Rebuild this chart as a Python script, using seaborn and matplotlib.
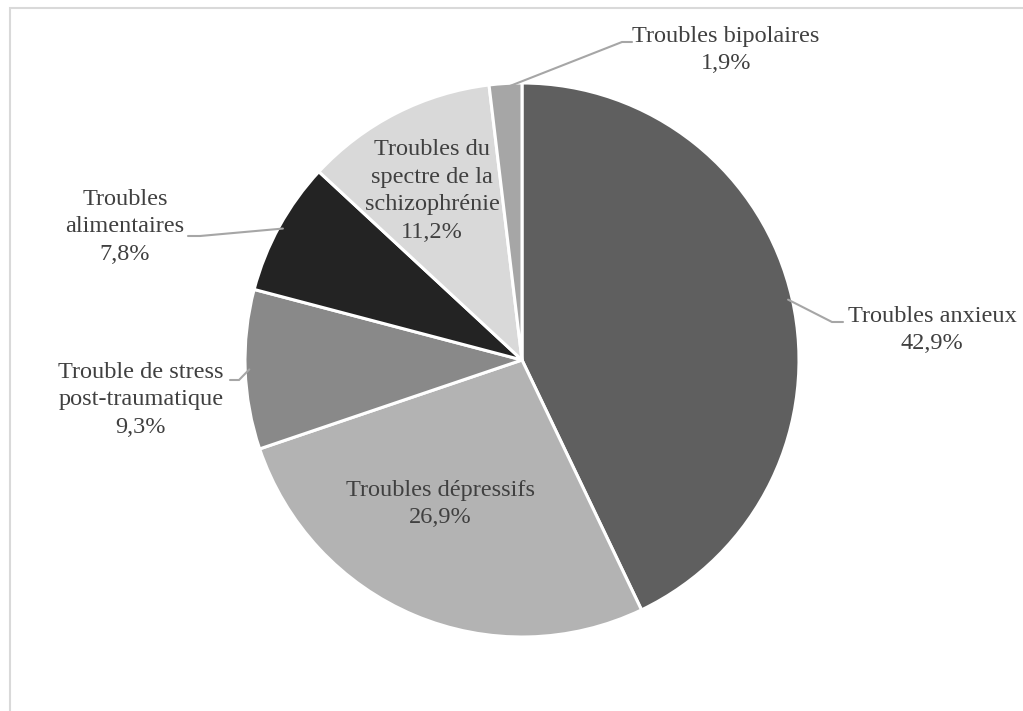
#!/usr/bin/env python3

import matplotlib
matplotlib.use('Agg')
import matplotlib.pyplot as plt
from matplotlib.patches import Rectangle
import numpy as np
import seaborn as sns

labels = ['Troubles anxieux', 'Troubles dépressifs',
          'Trouble de stress\npost-traumatique', 'Troubles\nalimentaires',
          'Troubles du\nspectre de la\nschizophrénie', 'Troubles bipolaires']
values = [42.9, 26.9, 9.3, 7.8, 11.2, 1.9]
colors = ['#5f5f5f', '#b3b3b3', '#898989', '#232323', '#d9d9d9', '#a6a6a6']

W, H = 1023, 711
CX, CY, R = 522, 360, 277


def px(x, y):
    # pixel position -> data coords (pie radius = 1)
    return (x - CX) / R, (CY - y) / R


def main():
    sns.set_theme(style='white')
    plt.rcParams['font.family'] = ['Liberation Serif', 'DejaVu Serif']

    fig = plt.figure(figsize=(W / 100, H / 100), dpi=100)
    ax = fig.add_axes([0, 0, 1, 1])

    wedges, _ = ax.pie(values, colors=colors, startangle=90, counterclock=False,
                       radius=1, center=(0, 0),
                       wedgeprops=dict(edgecolor='white', linewidth=2.2))
    # pie() resets the limits, so set them afterwards
    ax.set_xlim(-CX / R, (W - CX) / R)
    ax.set_ylim(-(H - CY) / R, CY / R)
    ax.set_aspect('equal')
    ax.axis('off')

    texts = [l + '\n' + f'{v:.1f}'.replace('.', ',') + '%'
             for l, v in zip(labels, values)]
    # (text position px, leader elbow px, leader end px) ; None = inside label
    layout = [
        ((932, 330), (832, 322), (843, 322)),
        ((440, 504), None, None),
        ((141, 400), (239, 380), (230, 380)),
        ((125, 227), (200, 236), (188, 236)),
        ((432, 191), None, None),
        ((726, 50), (622, 42), (632, 42)),
    ]
    tc = '#404040'
    lc = '#a6a6a6'
    for w, t, (pos, elbow, end) in zip(wedges, texts, layout):
        ax.text(*px(*pos), t, ha='center', va='center', fontsize=17.5,
                color=tc, linespacing=1.4)
        if elbow is None:
            continue
        ang = np.deg2rad((w.theta1 + w.theta2) / 2)
        sx, sy = np.cos(ang) * 0.985, np.sin(ang) * 0.985
        ex, ey = px(*elbow)
        fx, fy = px(*end)
        ax.plot([sx, ex, fx], [sy, ey, fy], color=lc, lw=1.5,
                solid_joinstyle='miter')

    fig.patches.append(Rectangle((10 / W, -0.1), 1.2, 1.1 - 8 / H,
                                 transform=fig.transFigure, fill=False,
                                 edgecolor='#d9d9d9', linewidth=1.5))
    fig.savefig('out.png', dpi=100)
    plt.close(fig)


if __name__ == '__main__':
    main()
